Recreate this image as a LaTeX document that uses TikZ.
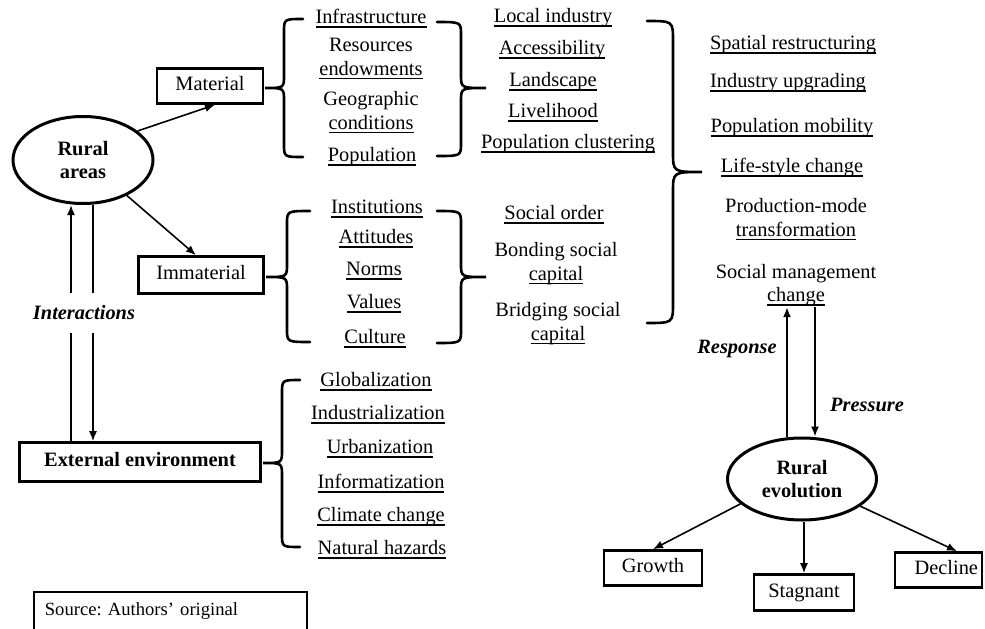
\documentclass[tikz,border=0pt]{standalone}
\usepackage{fontspec}
\setmainfont{Liberation Serif}
\usetikzlibrary{arrows.meta,shapes.geometric,calc}
\frenchspacing
\newcommand{\myul}[1]{\setbox0=\hbox{#1}\rlap{\rule[-4pt]{\wd0}{1.3pt}}\box0}
\newcommand{\mybrace}[7]{% xe xv xt yt ym yb r
  \draw[bracestyle] (#1,#4) .. controls (#2,#4) .. (#2,#4+#7) -- (#2,#5-#7)
    .. controls (#2,#5) .. (#3,#5) .. controls (#2,#5) .. (#2,#5+#7)
    -- (#2,#6-#7) .. controls (#2,#6) .. (#1,#6);}
\begin{document}
\begin{tikzpicture}[x=1pt,y=-1pt,
  every node/.style={font=\fontsize{20.4}{23.5}\selectfont},
  item/.style={inner sep=1pt, text height=14pt, text depth=4.5pt},
  itemtwo/.style={align=center, inner sep=1pt},
  box/.style={draw, line width=2.6pt, inner sep=0pt, text height=14pt, text depth=4.5pt},
  oval/.style={draw, ellipse, line width=3pt, align=center, inner sep=0pt,
    font=\fontsize{20.4}{23.5}\selectfont\bfseries},
  arr/.style={line width=1.6pt, -{Latex[length=10pt,width=8pt]}},
  rarr/.style={line width=1.6pt, {Latex[length=10pt,width=8pt]}-},
  bracestyle/.style={line width=2.6pt, line cap=round},
  lab/.style={font=\fontsize{20.4}{23.5}\selectfont\bfseries\itshape}]
\useasboundingbox (0,0) rectangle (985,629);
\clip (0,0) rectangle (985,629);
\fill[white] (0,0) rectangle (985,629);

% left side
\node[oval, minimum width=140pt, minimum height=87pt] (ra) at (83,160) {Rural\\areas};
\node[box, minimum width=106pt, minimum height=35pt] (mat) at (210,86) {Material};
\node[box, minimum width=125pt, minimum height=37pt] (imm) at (201,275) {Immaterial};
\node[box, minimum width=241pt, minimum height=39pt,
  font=\fontsize{20.4}{23.5}\selectfont\bfseries] (ext) at (140,462) {External environment};

% material items
\node[item] (i1) at (371,19) {\myul{Infrastructure}};
\node[itemtwo] (i2) at (371,59) {Resources\\\myul{endowments}};
\node[itemtwo] (i3) at (371,112.5) {Geographic\\\myul{conditions}};
\node[item] (i4) at (372,157) {\myul{Population}};

% material results
\node[item] (m1) at (553,18) {\myul{Local industry}};
\node[item] (m2) at (552,50) {\myul{Accessibility}};
\node[item] (m3) at (553,82) {\myul{Landscape}};
\node[item] (m4) at (553,113) {\myul{Livelihood}};
\node[item] (m5) at (568,144) {\myul{Population clustering}};

% immaterial items
\node[item] (j1) at (377,209) {\myul{Institutions}};
\node[item] (j2) at (376,239) {\myul{Attitudes}};
\node[item] (j3) at (374,271) {\myul{Norms}};
\node[item] (j4) at (374,304) {\myul{Values}};
\node[item] (j5) at (375,339) {\myul{Culture}};

% immaterial results
\node[item] (n1) at (554,215) {\myul{Social order}};
\node[itemtwo] (n2) at (556,263.5) {Bonding social\\\myul{capital}};
\node[itemtwo] (n3) at (558,323.5) {Bridging social\\\myul{capital}};

% right column
\node[item] (r1) at (793,45) {\myul{Spatial restructuring}};
\node[item] (r2) at (788,83) {\myul{Industry upgrading}};
\node[item] (r3) at (792,128) {\myul{Population mobility}};
\node[item] (r4) at (792,168) {\myul{Life-style change}};
\node[itemtwo] (r5) at (796,219.5) {Production-mode\\\myul{transformation}};
\node[itemtwo] (smc) at (796,285) {Social management\\\myul{change}};

% external items
\node[item] (e1) at (376,382) {\myul{Globalization}};
\node[item] (e2) at (378,415) {\myul{Industrialization}};
\node[item] (e3) at (380,449) {\myul{Urbanization}};
\node[item] (e4) at (381,484) {\myul{Informatization}};
\node[item] (e5) at (381,517) {\myul{Climate change}};
\node[item] (e6) at (382,550) {\myul{Natural hazards}};

% rural evolution
\node[oval, minimum width=149pt, minimum height=82pt] (re) at (802,479) {Rural\\evolution};
\node[box, minimum width=98pt, minimum height=35pt] (gr) at (653,568) {Growth};
\node[box, minimum width=100pt, minimum height=36pt] (st) at (804,592.5) {Stagnant};
\node[box, minimum height=35pt, text width=79pt, align=right, inner xsep=4pt] (dec) at (938.5,570) {Decline};

% source
\node[draw, line width=1.8pt, anchor=north west, text width=251pt, align=left,
  inner xsep=11pt, inner ysep=0pt, text height=24pt, text depth=30pt,
  font=\fontsize{18.6}{22}\selectfont] (src) at (33,591) {Source: Authors’ original};

% braces
\mybrace{303}{284}{265}{19}{88}{157}{13}
\mybrace{437}{461}{486}{22}{88}{156}{13}
\mybrace{310}{287}{266}{211}{277}{342}{13}
\mybrace{437}{461}{486}{211}{277}{343}{13}
\mybrace{647}{673}{702}{21}{172}{323}{20}
\mybrace{300}{282}{263}{380}{463}{547}{13}

% connectors
\coordinate (lx) at (71,0);
\coordinate (rx) at (93,0);
\coordinate (resx) at (787,0);
\coordinate (prex) at (815,0);
\draw[arr] (ra.28) -- ($(mat.south)+(5,0)$);
\draw[arr] (ra.321) -- ($(imm.north)+(-5,0)$);
\draw[rarr] (ra.south -| lx) -- (ext.north -| lx);
\draw[arr] (ra.south -| rx) -- (ext.north -| rx);
\node[lab, fill=white, inner xsep=2pt, inner ysep=13pt] (int) at (84,313) {Interactions};

\draw[rarr] (smc.south -| resx) -- (re.north -| resx);
\draw[arr] (smc.south -| prex) -- (re.north -| prex);
\node[lab] (resp) at (737,349) {Response};
\node[lab] (pres) at (867,405) {Pressure};

\draw[arr] (re.202) -- (gr.north);
\draw[arr] (re.south -| st.north) -- (st.north);
\draw[arr] (re.335) -- ($(dec.north)+(18.5,0)$);
\end{tikzpicture}
\end{document}
